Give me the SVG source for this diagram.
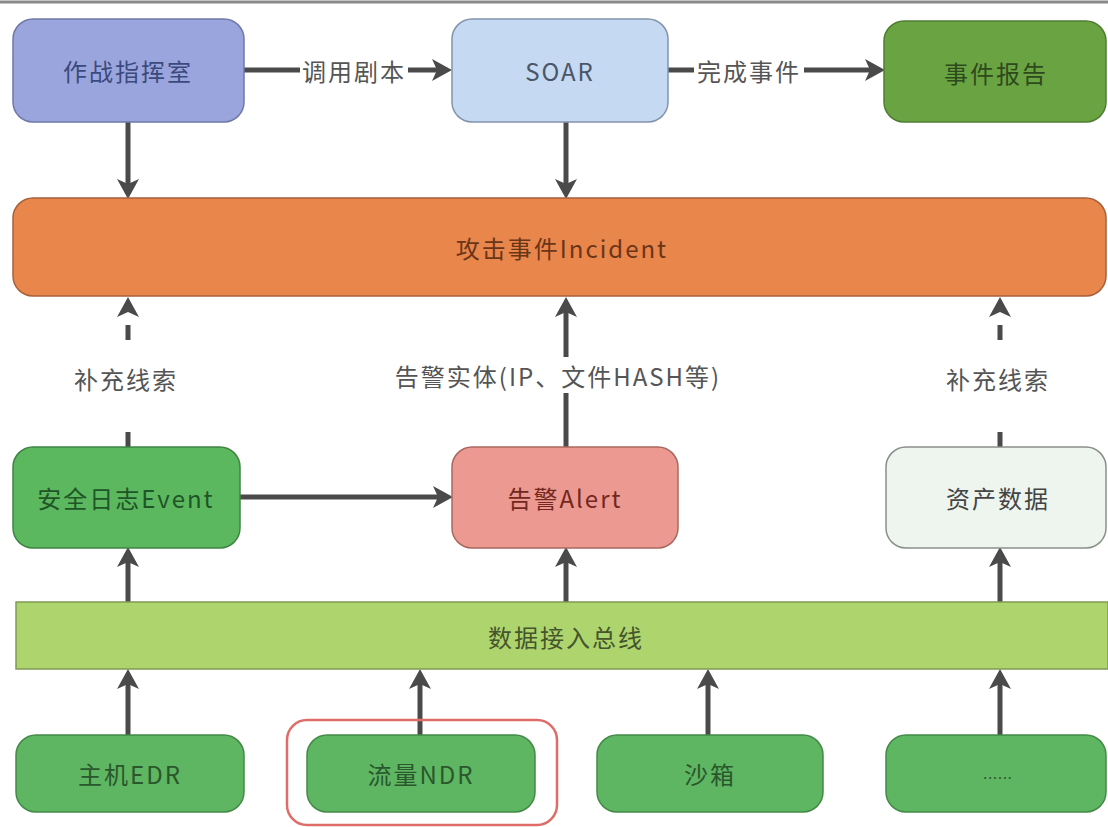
<svg xmlns="http://www.w3.org/2000/svg" width="1108" height="827" viewBox="0 0 1108 827">
<defs>
<marker id="ah" markerUnits="userSpaceOnUse" markerWidth="20" markerHeight="22" viewBox="0 0 20 22" refX="13" refY="11" orient="auto">
<path d="M0,0 L20,11 L0,22 L5,11 z" fill="#4a4a4a"/>
</marker>
<style>
text{font-family:"Noto Sans CJK SC","Noto Sans",sans-serif;font-size:24px;letter-spacing:2px;text-anchor:middle;dominant-baseline:central}
.c{stroke:#4a4a4a;stroke-width:5;fill:none;marker-end:url(#ah)}
.lbl{fill:#555}
.bg{fill:#fff}
.n{stroke-width:1.5}
</style>
</defs>
<rect width="1108" height="827" fill="#fff"/>
<line x1="0" y1="2" x2="1108" y2="2" stroke="#8a8a8a" stroke-width="3"/>

<g id="connectors">
<path class="c" d="M244,70 H445"/>
<path class="c" d="M668,70 H878"/>
<path class="c" d="M128,122 V192"/>
<path class="c" d="M566,122 V192"/>
<path class="c" d="M128,447 V304" stroke-dasharray="15 92 15 40"/>
<path class="c" d="M566,447 V304"/>
<path class="c" d="M1000,447 V304" stroke-dasharray="15 92 15 40"/>
<path class="c" d="M240,497 H446"/>
<path class="c" d="M128,602 V554"/>
<path class="c" d="M566,602 V554"/>
<path class="c" d="M1000,602 V554"/>
<path class="c" d="M128,735 V676"/>
<path class="c" d="M420,735 V676"/>
<path class="c" d="M708,735 V676"/>
<path class="c" d="M1000,735 V676"/>
<rect class="bg" x="300" y="56" width="108" height="30"/>
<text class="lbl" x="354" y="70">调用剧本</text>
<rect class="bg" x="694" y="56" width="110" height="30"/>
<text class="lbl" x="749" y="70">完成事件</text>
<rect class="bg" x="388" y="357" width="340" height="36"/>
<text class="lbl" x="558" y="375">告警实体(IP、文件HASH等)</text>
<text class="lbl" x="126" y="378">补充线索</text>
<text class="lbl" x="998" y="378">补充线索</text>
</g>

<g id="command">
<rect class="n" x="13" y="19" width="231" height="103" rx="20" fill="#9ba5dd" stroke="#6f78a6"/>
<text x="128" y="70" fill="#3b4a7c">作战指挥室</text>
</g>
<g id="soar">
<rect class="n" x="452" y="19" width="216" height="103" rx="20" fill="#c6d9f2" stroke="#8394ab"/>
<text x="560" y="70" fill="#4a5668">SOAR</text>
</g>
<g id="report">
<rect class="n" x="884" y="21" width="222" height="101" rx="20" fill="#6aa442" stroke="#4f7d33"/>
<text x="996" y="72" fill="#2e4a1c">事件报告</text>
</g>
<g id="incident">
<rect class="n" x="13" y="198" width="1093" height="98" rx="20" fill="#e8864c" stroke="#a8613a"/>
<text x="562" y="247" fill="#6b3518">攻击事件Incident</text>
</g>
<g id="event">
<rect class="n" x="13" y="447" width="227" height="101" rx="20" fill="#5cb85f" stroke="#3f8444"/>
<text x="126" y="497" fill="#1f5527">安全日志Event</text>
</g>
<g id="alert">
<rect class="n" x="452" y="447" width="226" height="101" rx="20" fill="#ec9a91" stroke="#a9685f"/>
<text x="565" y="497" fill="#72281f">告警Alert</text>
</g>
<g id="asset">
<rect class="n" x="886" y="447" width="220" height="101" rx="20" fill="#eef5ee" stroke="#8a8f8a"/>
<text x="998" y="497" fill="#444">资产数据</text>
</g>
<g id="bus">
<rect class="n" x="16" y="602" width="1092" height="67" fill="#aed46e" stroke="#7f9a55"/>
<text x="566" y="636" fill="#45552c">数据接入总线</text>
</g>
<g id="edr">
<rect class="n" x="16" y="735" width="228" height="77" rx="20" fill="#5eb562" stroke="#438a47"/>
<text x="130" y="773" fill="#2a572c">主机EDR</text>
</g>
<g id="ndr">
<rect x="287" y="720" width="270" height="105" rx="20" fill="none" stroke="#de6d68" stroke-width="2.5"/>
<rect class="n" x="307" y="735" width="228" height="77" rx="20" fill="#5eb562" stroke="#438a47"/>
<text x="421" y="773" fill="#2a572c">流量NDR</text>
</g>
<g id="sandbox">
<rect class="n" x="597" y="735" width="226" height="77" rx="20" fill="#5eb562" stroke="#438a47"/>
<text x="710" y="773" fill="#2a572c">沙箱</text>
</g>
<g id="more">
<rect class="n" x="886" y="735" width="220" height="77" rx="20" fill="#5eb562" stroke="#438a47"/>
<text x="998" y="773" fill="#2a572c" style="font-size:14px;letter-spacing:1px">......</text>
</g>
</svg>
